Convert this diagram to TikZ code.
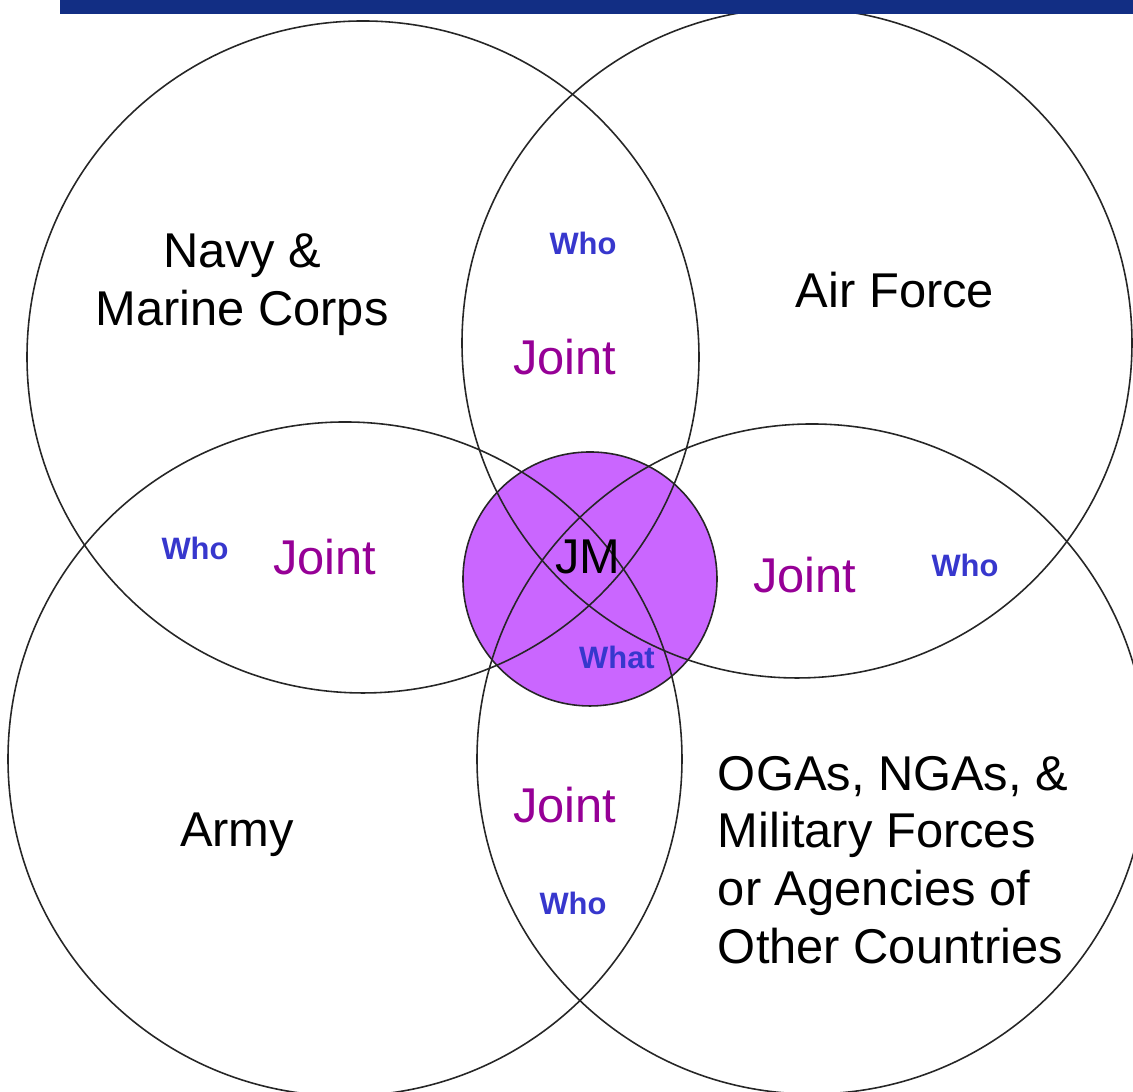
\documentclass[tikz,border=0pt]{standalone}
\usepackage{fontspec}
\setmainfont{Liberation Sans}
\usepackage{tikz}

\definecolor{barblue}{RGB}{18,46,132}
\definecolor{jmfill}{RGB}{202,102,255}
\definecolor{jointpurple}{RGB}{150,0,150}
\definecolor{whoblue}{RGB}{55,55,205}

\begin{document}
\begin{tikzpicture}[every node/.style={inner sep=0pt, outer sep=0pt},
    ring/.style={draw=black!85, line width=0.45pt},
    big/.style={font=\fontsize{13.9}{16.4}\selectfont, align=center},
    joint/.style={font=\fontsize{13.9}{16.4}\selectfont, text=jointpurple},
    who/.style={font=\fontsize{8.8}{10}\selectfont\bfseries, text=whoblue}]
            \useasboundingbox (0,0) rectangle (11.33,10.92);
            \clip (0,0) rectangle (11.33,10.92);
            % centre disc
            \fill[jmfill] (5.90,5.13) circle (1.27);
            % the four services
            \draw[ring] (3.63,7.35) circle (3.36);
            \draw[ring] (7.97,7.49) circle (3.35);
            \draw[ring] (3.45,3.33) circle (3.37);
            \draw[ring] (8.12,3.33) circle (3.35);
            \draw[ring] (5.90,5.13) circle (1.27);
            % title bar
            \fill[barblue] (0.60,10.78) rectangle (11.33,10.92);
            % labels
            \node[big] (navy) at (2.42,8.07) {Navy \&\\Marine Corps};
            \node[big] (airforce) at (8.95,8.02) {Air Force};
            \node[big] (army) at (2.37,2.57) {Army};
            \node[big, align=left, anchor=west] (oga) at (7.18,2.32) {OGAs, NGAs, \&\\Military Forces\\or Agencies of\\Other Countries};
            \node[big] (jm) at (5.88,5.35) {JM};
            \node[joint] (jointtop) at (5.65,7.35) {Joint};
            \node[joint] (jointleft) at (3.25,5.35) {Joint};
            \node[joint] (jointright) at (8.05,5.17) {Joint};
            \node[joint] (jointbottom) at (5.65,2.87) {Joint};
            \node[who] (whotop) at (5.83,8.49) {Who};
            \node[who] (wholeft) at (1.95,5.44) {Who};
            \node[who] (whoright) at (9.65,5.27) {Who};
            \node[who] (whobottom) at (5.73,1.89) {Who};
            \node[who] (what) at (6.17,4.35) {What};
        \end{tikzpicture}
\end{document}
